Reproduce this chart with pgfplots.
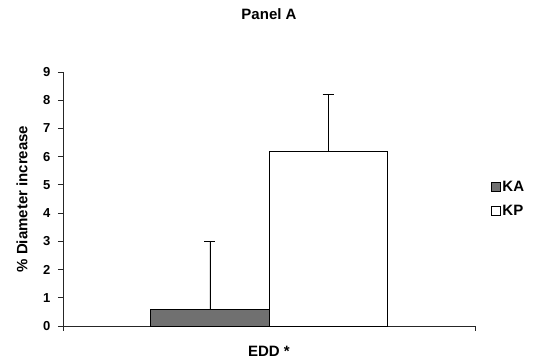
\documentclass[border=0pt]{standalone}
\usepackage{pgfplots}
\pgfplotsset{compat=1.18}
\usepackage{fontspec}
\setmainfont{Liberation Sans}
\definecolor{kagray}{RGB}{112,112,112}
\begin{document}
\begin{tikzpicture}
\begin{axis}[
  at={(0,0)}, anchor=south west,
  scale only axis,
  width=412pt, height=254pt,
  xmin=-1.745, xmax=1.745,
  ymin=0, ymax=9,
  axis lines*=left,
  axis line style={line width=0.9pt, black!85, -},
  tick style={line width=0.9pt, black!85},
  tick align=outside,
  major tick length=5pt,
  xtick={-1.745,1.745}, xticklabels={},
  ytick={0,1,...,9},
  /pgf/number format/assume math mode=true,
  yticklabel style={font=\bfseries\fontsize{13}{13}\selectfont, xshift=-4pt},
  title={Panel A},
  title style={font=\bfseries\fontsize{15}{15}\selectfont, at={(axis description cs:0.5,1)}, anchor=center, yshift=52pt},
  xlabel={EDD *},
  xlabel style={font=\bfseries\fontsize{15}{15}\selectfont, at={(axis description cs:0.5,0)}, anchor=center, yshift=-25pt},
  ylabel={\% Diameter increase},
  ylabel style={font=\bfseries\fontsize{15}{15}\selectfont, at={(axis description cs:-0.0995,0.5)}, anchor=center},
  clip=false,
  legend style={at={(axis description cs:1.035,0.5)}, anchor=west, draw=none, fill=none,
    font=\bfseries\fontsize{15}{15}\selectfont, row sep=8pt, inner sep=1pt},
  legend cell align=left,
  legend image code/.code={\draw[#1, line width=0.8pt] (0pt,-4.5pt) rectangle (9pt,4.5pt);},
]
\addplot[ybar, bar width=1, bar shift=0pt, fill=kagray, draw=black, line width=0.9pt,
  error bars/.cd, y dir=plus, y explicit, error mark=|, error mark options={line width=0.9pt, mark size=5.5pt, black}, error bar style={line width=0.9pt, black}]
  coordinates {(-0.5,0.6) +- (0,2.4)};
\addlegendentry{KA}
\addplot[ybar, bar width=1, bar shift=0pt, fill=white, draw=black, line width=0.9pt,
  error bars/.cd, y dir=plus, y explicit, error mark=|, error mark options={line width=0.9pt, mark size=5.5pt, black}, error bar style={line width=0.9pt, black}]
  coordinates {(0.5,6.2) +- (0,2.0)};
\addlegendentry{KP}
\end{axis}
\pgfresetboundingbox
\useasboundingbox (-63pt,-32pt) rectangle (472pt,326pt);
\end{tikzpicture}
\end{document}
